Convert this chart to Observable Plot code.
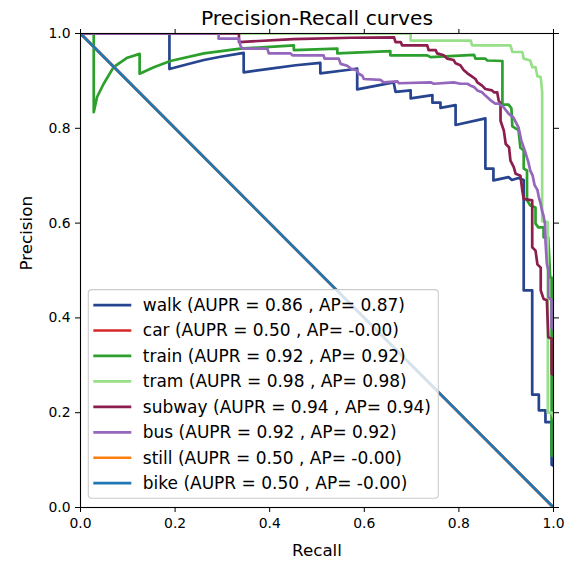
<!DOCTYPE html>
<html>
<head>
<meta charset="utf-8">
<script src="https://cdn.jsdelivr.net/npm/d3@7"></script>
<script src="https://cdn.jsdelivr.net/npm/@observablehq/plot@0.6"></script>
<style>
  body { margin: 0; background: #fff; }
  #chart svg { display: block; }
</style>
</head>
<body>
<div id="chart"></div>
<script>
// ---------- data ----------
const chartTitle = "Precision-Recall curves";
const xLabel = "Recall";
const yLabel = "Precision";
const xTicks = [0, 0.2, 0.4, 0.6, 0.8, 1.0];
const yTicks = [0, 0.2, 0.4, 0.6, 0.8, 1.0];

const seriesNames = ["walk", "car", "train", "tram", "subway", "bus", "still", "bike"];
const auprValues = ["0.86", "0.50", "0.92", "0.98", "0.94", "0.92", "0.50", "0.50"];
const apValues = ["0.87", "-0.00", "0.92", "0.98", "0.94", "0.92", "-0.00", "-0.00"];
const seriesColors = ["#26448f", "#d62728", "#2ca02c", "#98df8a", "#8b1e4e", "#9467bd", "#ff7f0e", "#1f77b4"];

// [recall, precision]
const walk = [[0,1],[0.188,1],[0.188,0.925],[0.226,0.935],[0.261,0.944],[0.296,0.951],[0.345,0.959],[0.345,0.918],[0.402,0.926],[0.455,0.933],[0.507,0.938],[0.507,0.916],[0.564,0.923],[0.585,0.926],[0.585,0.882],[0.662,0.897],[0.666,0.877],[0.698,0.880],[0.698,0.863],[0.744,0.870],[0.744,0.854],[0.761,0.854],[0.761,0.843],[0.793,0.849],[0.793,0.807],[0.856,0.821],[0.856,0.715],[0.873,0.715],[0.873,0.690],[0.905,0.697],[0.912,0.691],[0.926,0.695],[0.937,0.691],[0.937,0.458],[0.955,0.458],[0.955,0.238],[0.969,0.238],[0.969,0.205],[0.983,0.205],[0.983,0.180],[0.996,0.180],[0.996,0.090],[1,0.088]];
const car = [[0,1],[1,0]];
const train = [[0,1],[0.028,1],[0.028,0.834],[0.035,0.866],[0.049,0.894],[0.070,0.929],[0.099,0.949],[0.125,0.957],[0.125,0.915],[0.155,0.929],[0.190,0.942],[0.261,0.958],[0.338,0.968],[0.451,0.975],[0.451,0.965],[0.543,0.968],[0.543,0.958],[0.655,0.963],[0.655,0.954],[0.733,0.954],[0.740,0.950],[0.832,0.955],[0.835,0.947],[0.856,0.947],[0.860,0.943],[0.892,0.942],[0.892,0.850],[0.905,0.850],[0.911,0.842],[0.913,0.804],[0.926,0.796],[0.930,0.759],[0.937,0.753],[0.937,0.715],[0.944,0.711],[0.944,0.648],[0.951,0.637],[0.962,0.633],[0.962,0.599],[0.968,0.591],[0.979,0.591],[0.979,0.570],[0.989,0.570],[0.993,0.485],[0.996,0.485],[0.996,0.110],[1,0.108]];
const tram = [[0,1],[0.698,1],[0.698,0.985],[0.825,0.985],[0.828,0.975],[0.909,0.975],[0.913,0.961],[0.934,0.961],[0.937,0.947],[0.951,0.943],[0.955,0.929],[0.962,0.929],[0.966,0.910],[0.973,0.908],[0.976,0.877],[0.976,0.604],[0.988,0.602],[0.988,0.200],[0.997,0.200],[1,0.19]];
const subway = [[0,1],[0.335,1],[0.335,0.982],[0.45,0.988],[0.571,0.991],[0.663,0.992],[0.666,0.982],[0.677,0.982],[0.680,0.975],[0.733,0.975],[0.736,0.965],[0.751,0.965],[0.754,0.958],[0.768,0.954],[0.775,0.947],[0.789,0.944],[0.793,0.937],[0.803,0.933],[0.810,0.923],[0.818,0.916],[0.825,0.911],[0.835,0.904],[0.839,0.897],[0.849,0.890],[0.856,0.883],[0.870,0.880],[0.874,0.876],[0.881,0.876],[0.884,0.859],[0.888,0.852],[0.888,0.816],[0.895,0.795],[0.899,0.767],[0.906,0.760],[0.909,0.732],[0.916,0.718],[0.920,0.704],[0.930,0.700],[0.934,0.669],[0.937,0.651],[0.955,0.648],[0.955,0.549],[0.962,0.542],[0.966,0.513],[0.973,0.506],[0.973,0.458],[0.979,0.440],[0.986,0.437],[0.989,0.359],[0.996,0.356],[0.996,0.282],[1,0.28]];
const bus = [[0,1],[0.292,1],[0.292,0.989],[0.335,0.989],[0.338,0.975],[0.342,0.968],[0.395,0.968],[0.398,0.958],[0.444,0.958],[0.448,0.954],[0.514,0.954],[0.516,0.947],[0.546,0.947],[0.550,0.936],[0.564,0.932],[0.571,0.926],[0.585,0.922],[0.588,0.915],[0.596,0.911],[0.599,0.904],[0.634,0.902],[0.641,0.897],[0.670,0.899],[0.673,0.895],[0.740,0.897],[0.747,0.894],[0.789,0.897],[0.803,0.894],[0.818,0.894],[0.825,0.890],[0.832,0.887],[0.839,0.880],[0.849,0.876],[0.856,0.869],[0.867,0.859],[0.877,0.852],[0.884,0.852],[0.894,0.845],[0.905,0.831],[0.915,0.823],[0.926,0.802],[0.932,0.774],[0.939,0.754],[0.947,0.728],[0.951,0.710],[0.956,0.700],[0.960,0.680],[0.966,0.670],[0.969,0.655],[0.973,0.640],[0.976,0.625],[0.979,0.615],[0.982,0.598],[0.983,0.563],[0.986,0.514],[0.989,0.5],[0.989,0.444],[0.996,0.437],[0.996,0.38],[1,0.375]];
const still = [[0,1],[1,0]];
const bike = [[0,1],[1,0]];

const curves = [walk, car, train, tram, subway, bus, still, bike];

// ---------- chart ----------
const LW = 2.7;
const fmt = d3.format(".1f");
const lineMarks = curves.map((c, i) =>
  Plot.line(c, {x: d => d[0], y: d => d[1], stroke: seriesColors[i], strokeWidth: LW, clip: true})
);

const chart = Plot.plot({
  width: 580,
  height: 561,
  marginLeft: 80,
  marginRight: 27,
  marginTop: 33,
  marginBottom: 54,
  style: {fontFamily: "'DejaVu Sans', sans-serif", fontSize: "13.9px", color: "#000", background: "#fff"},
  x: {domain: [0, 1]},
  y: {domain: [0, 1]},
  marks: [
    ...lineMarks,
    Plot.frame({stroke: "#000", strokeWidth: 1.1}),
    Plot.axisX({ticks: xTicks, tickFormat: fmt, tickSize: 5, tickPadding: 6, label: null}),
    Plot.axisX({anchor: "top", ticks: xTicks, tickFormat: () => "", tickSize: 5, label: null}),
    Plot.axisY({ticks: yTicks, tickFormat: fmt, tickSize: 5, tickPadding: 5, label: null}),
    Plot.axisY({anchor: "right", ticks: yTicks, tickFormat: () => "", tickSize: 5, label: null}),
    Plot.text([chartTitle], {text: d => d, frameAnchor: "top", dy: -8.5, lineAnchor: "bottom", fontSize: 20.3}),
    Plot.text([xLabel], {text: d => d, frameAnchor: "bottom", dy: 48, lineAnchor: "bottom", fontSize: 16.7}),
    Plot.text([yLabel], {text: d => d, frameAnchor: "left", dx: -49, rotate: -90, lineAnchor: "bottom", fontSize: 16.7})
  ]
});

document.getElementById("chart").appendChild(chart);

// ---------- legend (lower left, inside axes) ----------
const xs = chart.scale("x"), ys = chart.scale("y");
const legLeft = xs.apply(0) + 8.3;
const legBottom = ys.apply(0) - 8.7;
const rowH = 25.45;
const nSeries = seriesNames.length;
const boxH = 15.4 * 2 + rowH * (nSeries - 1) - 0.3;
const boxW = 350;
const legTop = legBottom - boxH;
const lg = d3.select(chart).append("g")
  .attr("font-family", "'DejaVu Sans', sans-serif")
  .attr("font-size", "17px")
  .attr("text-anchor", "start");
lg.append("rect")
  .attr("x", legLeft).attr("y", legTop).attr("width", boxW).attr("height", boxH)
  .attr("rx", 3.5).attr("fill", "#fff").attr("fill-opacity", 0.8)
  .attr("stroke", "#cccccc").attr("stroke-width", 1.1);
seriesNames.forEach((name, i) => {
  const cy = legTop + 15.4 + i * rowH;
  lg.append("line")
    .attr("x1", legLeft + 5).attr("x2", legLeft + 43)
    .attr("y1", cy).attr("y2", cy)
    .attr("stroke", seriesColors[i]).attr("stroke-width", LW);
  lg.append("text")
    .attr("x", legLeft + 54.5).attr("y", cy).attr("dy", "0.35em")
    .attr("text-anchor", "start")
    .attr("fill", "#000")
    .text(`${name} (AUPR = ${auprValues[i]} , AP= ${apValues[i]})`);
});
</script>
</body>
</html>
